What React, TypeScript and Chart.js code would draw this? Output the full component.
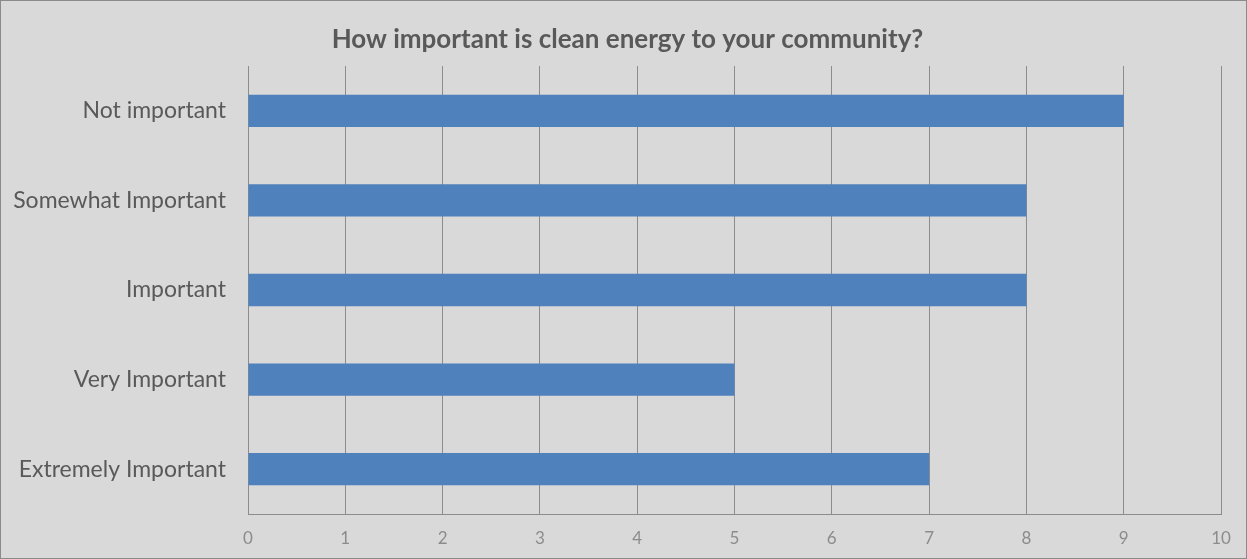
import React, { useEffect, useRef } from "react";
import { Chart, registerables } from "chart.js";

Chart.register(...registerables);

const categories = [
  "Not important",
  "Somewhat Important",
  "Important",
  "Very Important",
  "Extremely Important",
];
const responses = [9, 8, 8, 5, 7];
const xTicks = [0, 1, 2, 3, 4, 5, 6, 7, 8, 9, 10];
const titleText = "How important is clean energy to your community?";

const FONT = "Lato, 'Open Sans', sans-serif";

// Title centred across the whole canvas width
const centredTitle = {
  id: "centredTitle",
  afterDraw(chart: any) {
    const { ctx, width } = chart;
    ctx.save();
    ctx.font = `bold 26px ${FONT}`;
    ctx.fillStyle = "#595959";
    ctx.textAlign = "center";
    ctx.textBaseline = "middle";
    ctx.fillText(titleText, width / 2 + 4, 39);
    ctx.restore();
  },
};

export default function App() {
  const canvasRef = useRef<HTMLCanvasElement | null>(null);

  useEffect(() => {
    document.body.style.margin = "0";
    const ctx = canvasRef.current;
    if (!ctx) return;
    const chart = new Chart(ctx, {
      type: "bar",
      data: {
        labels: categories,
        datasets: [
          {
            data: responses,
            backgroundColor: "#4f81bd",
            borderWidth: 0,
            barPercentage: 0.45,
            categoryPercentage: 0.8,
          },
        ],
      },
      options: {
        indexAxis: "y",
        animation: false,
        responsive: false,
        maintainAspectRatio: false,
        layout: { padding: { left: 0, right: 25, top: 65, bottom: 0 } },
        plugins: {
          legend: { display: false },
          tooltip: { enabled: false },
          title: { display: false },
        },
        scales: {
          x: {
            min: 0,
            max: 10,
            afterBuildTicks: (scale: any) => {
              scale.ticks = xTicks.map((v) => ({ value: v }));
            },
            afterFit: (scale: any) => {
              scale.height = 44;
            },
            grid: { color: "#8c8c8c", lineWidth: 1, drawTicks: false },
            border: { display: true, color: "#8c8c8c", width: 1 },
            ticks: {
              color: "#8c8c8c",
              font: { family: FONT, size: 17 },
              padding: 14,
            },
          },
          y: {
            afterFit: (scale: any) => {
              scale.width = 247;
            },
            grid: { display: false, drawTicks: false },
            border: { display: true, color: "#8c8c8c", width: 1 },
            ticks: {
              color: "#595959",
              font: { family: FONT, size: 23 },
              padding: 22,
            },
          },
        },
      },
      plugins: [centredTitle],
    });
    return () => chart.destroy();
  }, []);

  return (
    <div
      style={{
        position: "absolute",
        left: 0,
        top: 0,
        width: 1247,
        height: 559,
        boxSizing: "border-box",
        border: "1px solid #8a8a8a",
        background: "#d9d9d9",
      }}
    >
      <canvas ref={canvasRef} width={1245} height={557} style={{ display: "block" }} />
    </div>
  );
}
